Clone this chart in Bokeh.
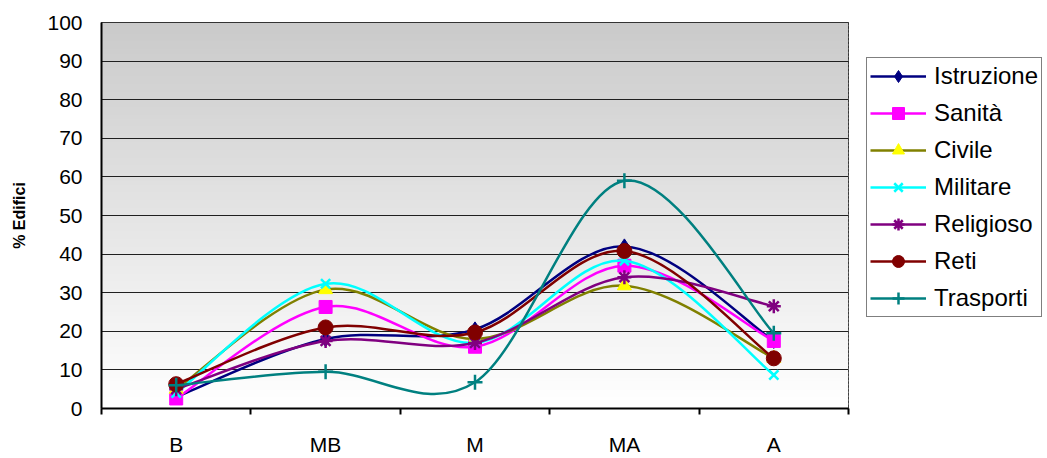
from bokeh.plotting import figure
from bokeh.models import Range1d, FixedTicker, Legend, LegendItem, ColumnDataSource
from bokeh.embed import file_html
from bokeh.resources import INLINE
import numpy as np

categories = ["B", "MB", "M", "MA", "A"]
istruzione = [3, 18, 20.5, 42, 17.5]
sanita = [2.6, 26.3, 16, 37, 17.5]
civile = [5, 30.8, 18, 31.8, 13]
militare = [4, 32.3, 17, 38.3, 8.7]
religioso = [5, 17.5, 17, 34, 26.5]
reti = [6.3, 21, 19.7, 40.8, 13]
trasporti = [6, 9.5, 6.8, 59, 19.5]

series = [
    ("Istruzione", istruzione, "#000080", "diamond", "#000080"),
    ("Sanità", sanita, "#FF00FF", "square", "#FF00FF"),
    ("Civile", civile, "#808000", "triangle", "#FFFF00"),
    ("Militare", militare, "#00FFFF", "x", "#00FFFF"),
    ("Religioso", religioso, "#800080", "asterisk", "#800080"),
    ("Reti", reti, "#800000", "circle", "#800000"),
    ("Trasporti", trasporti, "#008080", "cross", "#008080"),
]
marker_sizes = {"diamond": 15, "square": 13, "triangle": 14, "x": 13,
                "asterisk": 14, "circle": 15, "cross": 15}

FONT = "Liberation Sans"

p = figure(output_backend="svg", toolbar_location=None,
           frame_width=747, frame_height=386,
           min_border_left=101, min_border_right=191,
           min_border_top=22, min_border_bottom=44,
           x_range=Range1d(0, len(categories)), y_range=Range1d(0, 100))
p.background_fill_color = "white"
p.border_fill_color = "white"
p.outline_line_color = "black"
p.outline_line_width = 1

# gradient background of the plot area
nb = 100
edges = np.linspace(0, 100, nb + 1)
cols = []
for i in range(nb):
    f = (i + 0.5) / nb
    g = int(round(255 - (255 - 202) * f))
    cols.append("#%02x%02x%02x" % (g, g, g))
bg = p.quad(left=0, right=len(categories), bottom=edges[:-1],
            top=np.minimum(edges[1:] + 0.4, 100),
            fill_color=cols, line_color=None)
bg.level = "image"

# grid
p.xgrid.visible = False
p.ygrid.ticker = FixedTicker(ticks=list(range(0, 101, 10)))
p.ygrid.grid_line_color = "#202020"
p.ygrid.grid_line_width = 1

# axes
xpos = [i + 0.5 for i in range(len(categories))]
p.xaxis.ticker = FixedTicker(ticks=xpos, minor_ticks=list(range(len(categories) + 1)))
p.xaxis.major_label_overrides = {x: c for x, c in zip(xpos, categories)}
p.xaxis.major_tick_line_color = None
p.xaxis.major_tick_out = 0
p.xaxis.minor_tick_line_color = "black"
p.xaxis.minor_tick_line_width = 2
p.xaxis.minor_tick_out = 6
p.xaxis.minor_tick_in = 0
p.xaxis.major_label_standoff = 18
p.xaxis.axis_line_width = 2
p.xaxis.axis_line_color = "black"

p.yaxis.ticker = FixedTicker(ticks=list(range(0, 101, 10)))
p.yaxis.minor_tick_line_color = None
p.yaxis.major_tick_line_color = None
p.yaxis.major_tick_out = 0
p.yaxis.major_tick_in = 0
p.yaxis.axis_line_width = 2
p.yaxis.axis_line_color = "black"
p.yaxis.major_label_standoff = 19
p.yaxis.axis_label = "% Edifici"
p.yaxis.axis_label_text_font_style = "bold"
p.yaxis.axis_label_text_font_size = "16px"
p.yaxis.axis_label_standoff = 16

for ax in (p.xaxis, p.yaxis):
    ax.major_label_text_font = FONT
    ax.major_label_text_font_size = "21px"
    ax.major_label_text_color = "black"
    ax.axis_label_text_font = FONT
    ax.axis_label_text_color = "black"


def smooth_segments(xs, ys):
    pts = np.column_stack([xs, ys]).astype(float)
    n = len(pts)
    out = {k: [] for k in ("x0", "y0", "x1", "y1", "cx0", "cy0", "cx1", "cy1")}
    for i in range(n - 1):
        p0 = pts[i - 1] if i > 0 else pts[i]
        p1 = pts[i]
        p2 = pts[i + 1]
        p3 = pts[i + 2] if i + 2 < n else pts[i + 1]
        c1 = p1 + (p2 - p0) / 6.0
        c2 = p2 - (p3 - p1) / 6.0
        out["x0"].append(p1[0]); out["y0"].append(p1[1])
        out["x1"].append(p2[0]); out["y1"].append(p2[1])
        out["cx0"].append(c1[0]); out["cy0"].append(c1[1])
        out["cx1"].append(c2[0]); out["cy1"].append(c2[1])
    return out


items = []
for name, vals, lc, marker, fc in series:
    seg = smooth_segments(xpos, vals)
    p.bezier(source=ColumnDataSource(seg), x0="x0", y0="y0", x1="x1", y1="y1",
             cx0="cx0", cy0="cy0", cx1="cx1", cy1="cy1",
             line_color=lc, line_width=2.5)
    # legend-only line sample (nothing drawn in the plot area)
    leg_line = p.line(x=xpos, y=np.full(len(xpos), np.nan), line_color=lc, line_width=2.5)
    lw = 2.5 if marker in ("x", "asterisk", "cross") else 1
    sc = p.scatter(x=xpos, y=vals, marker=marker, size=marker_sizes[marker],
                   fill_color=fc, line_color=fc, line_width=lw)
    items.append(LegendItem(label=name, renderers=[leg_line, sc]))

legend = Legend(items=items, location=(18, 91))
legend.label_text_font = FONT
legend.label_text_font_size = "24px"
legend.label_text_color = "black"
legend.glyph_width = 56
legend.glyph_height = 30
legend.label_height = 30
legend.spacing = 7
legend.padding = 3
legend.margin = 0
legend.label_standoff = 8
legend.border_line_color = "black"
legend.border_line_width = 1
legend.background_fill_color = "white"
legend.background_fill_alpha = 1
p.add_layout(legend, "right")

open("out.html", "w").write(file_html(p, INLINE))
